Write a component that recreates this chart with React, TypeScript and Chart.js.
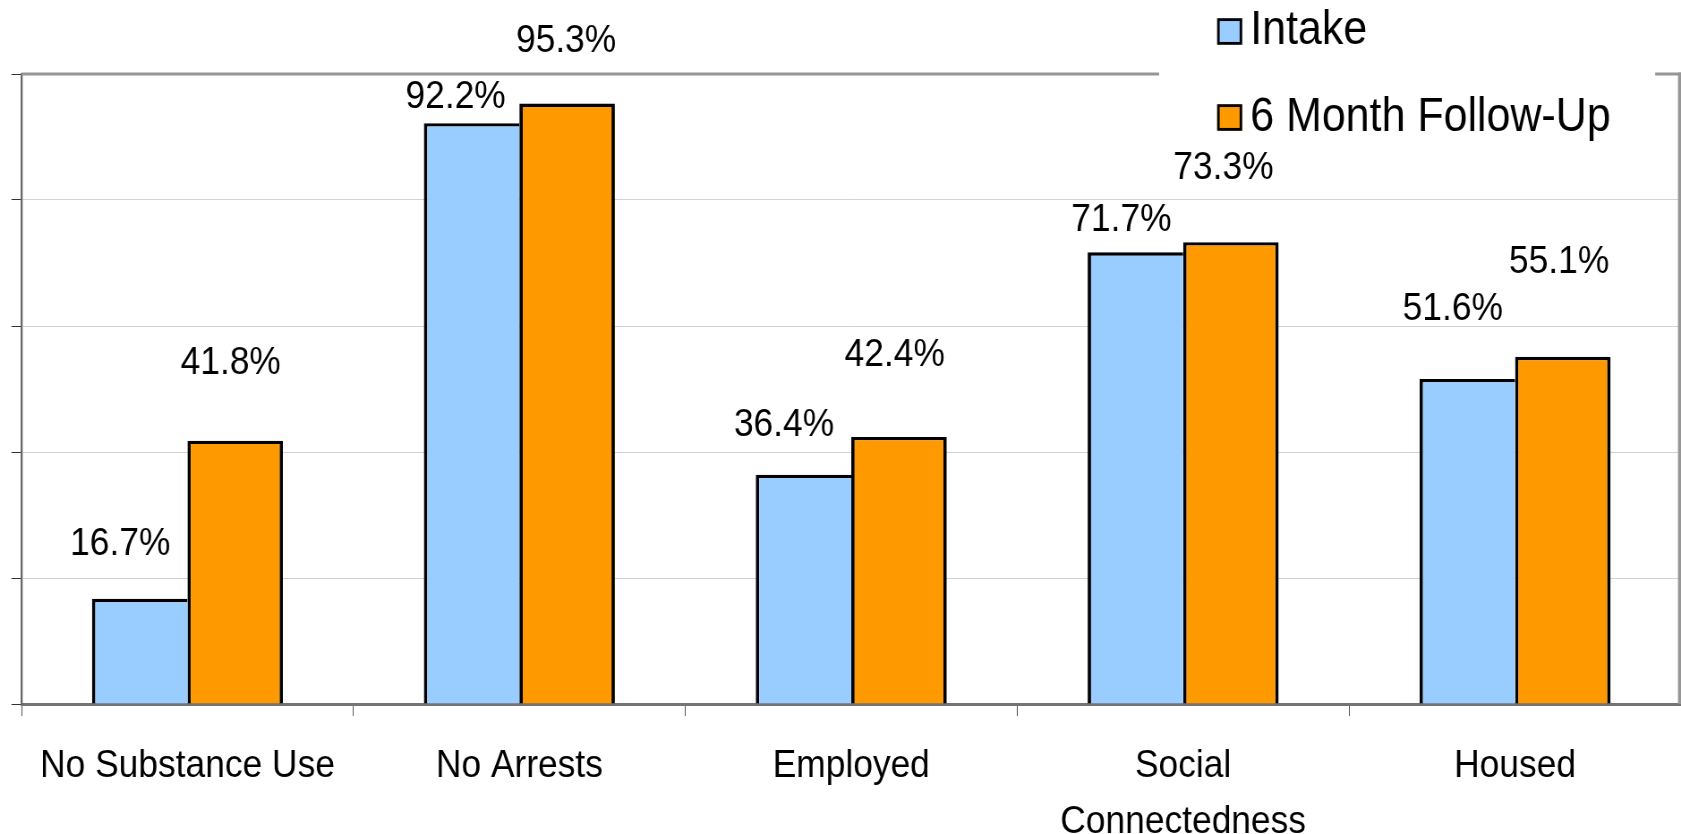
import React, { useEffect, useRef } from "react";
import { Chart, registerables } from "chart.js";

Chart.register(...registerables);

// ---- data ----
const categories: (string | string[])[] = [
  "No Substance Use",
  "No Arrests",
  "Employed",
  ["Social", "Connectedness"],
  "Housed",
];
const seriesNames = ["Intake", "6 Month Follow-Up"];
const intakeValues = [16.7, 92.2, 36.4, 71.7, 51.6];
const followUpValues = [41.8, 95.3, 42.4, 73.3, 55.1];
const yMin = 0;
const yMax = 100;
const yStep = 20;

// hand-placed value labels: [dx, dy] in page px from the top centre of each bar
const intakeLabelNudge = [
  [-19.5, -58],
  [-16, -29],
  [-19.5, -53],
  [-14, -35],
  [-14.5, -73],
];
const followUpLabelNudge = [
  [-4.5, -81],
  [-1, -66],
  [-4.3, -85],
  [-7.5, -77],
  [-3.7, -98],
];

// ---- look ----
const PAGE_W = 1681;
const PAGE_H = 834;
// the whole drawing is narrowed horizontally (text included)
const SQUEEZE = 0.895;
const CANVAS_W = Math.round(PAGE_W / SQUEEZE);
const sx = (x: number) => x / SQUEEZE;

const FONT = '"Liberation Sans", Arial, Helvetica, sans-serif';
const VALUE_SIZE = 39.5;
const LEGEND_SIZE = 48;
const CAP = 0.358; // cap-centre to baseline, in em

const PLOT_LEFT = 21.5;
const PLOT_TOP = 74;
const PLOT_BOTTOM = 704;

const INTAKE_FILL = "#99CCFF";
const FOLLOW_FILL = "#FF9900";
const EDGE = 3.4;

const framePlugin = {
  id: "frame",
  afterDatasetsDraw(chart: any) {
    const { ctx, chartArea: a } = chart;
    ctx.save();
    ctx.strokeStyle = "#969696";
    ctx.lineWidth = 3;
    ctx.beginPath();
    ctx.moveTo(a.left, a.top);
    ctx.lineTo(a.right, a.top);
    ctx.stroke();
    ctx.lineWidth = sx(3);
    ctx.beginPath();
    ctx.moveTo(a.right - sx(1.5), a.top - 1.5);
    ctx.lineTo(a.right - sx(1.5), a.bottom);
    ctx.stroke();

    // value labels
    ctx.fillStyle = "#000";
    ctx.font = `${VALUE_SIZE}px ${FONT}`;
    ctx.textAlign = "center";
    ctx.textBaseline = "alphabetic";
    const nudges = [intakeLabelNudge, followUpLabelNudge];
    chart.data.datasets.forEach((ds: any, di: number) => {
      const meta = chart.getDatasetMeta(di);
      meta.data.forEach((bar: any, i: number) => {
        const v = ds.data[i] as number;
        const [dx, dy] = nudges[di][i];
        ctx.fillText(
          `${v.toFixed(1)}%`,
          bar.x + sx(dx),
          bar.y + dy + CAP * VALUE_SIZE
        );
      });
    });
    ctx.restore();
  },
  afterDraw(chart: any) {
    const { ctx } = chart;
    ctx.save();
    // legend panel breaks the top frame line
    ctx.fillStyle = "#fff";
    ctx.fillRect(sx(1159), 60, sx(1655) - sx(1159), 28);

    const rows = [
      { cy: 31.5, baseline: 43.5 },
      { cy: 117.5, baseline: 130.5 },
    ];
    chart.data.datasets.forEach((ds: any, di: number) => {
      const r = rows[di];
      const x0 = sx(1217);
      const w = sx(25);
      const h = 26.5;
      const y0 = r.cy - h / 2;
      ctx.fillStyle = ds.backgroundColor;
      ctx.fillRect(x0, y0, w, h);
      ctx.strokeStyle = "#000";
      ctx.lineWidth = 2.8;
      ctx.strokeRect(x0 + 1.4, y0 + 1.4, w - 2.8, h - 2.8);
      ctx.fillStyle = "#000";
      ctx.font = `${LEGEND_SIZE}px ${FONT}`;
      ctx.textAlign = "left";
      ctx.textBaseline = "alphabetic";
      ctx.fillText(ds.label, sx(1250), r.baseline);
    });
    ctx.restore();
  },
};

export default function App() {
  const canvasRef = useRef<HTMLCanvasElement | null>(null);

  useEffect(() => {
    const canvas = canvasRef.current;
    if (!canvas) return;
    const chart = new Chart(canvas, {
      type: "bar",
      data: {
        labels: categories,
        datasets: [
          {
            label: seriesNames[0],
            data: intakeValues,
            backgroundColor: INTAKE_FILL,
            borderColor: "#000",
            borderWidth: { left: sx(EDGE), top: EDGE, right: 0, bottom: 0 },
            borderSkipped: false,
          },
          {
            label: seriesNames[1],
            data: followUpValues,
            backgroundColor: FOLLOW_FILL,
            borderColor: "#000",
            borderWidth: { left: sx(EDGE), top: EDGE, right: sx(EDGE), bottom: 0 },
            borderSkipped: false,
          },
        ],
      },
      options: {
        responsive: false,
        animation: false,
        devicePixelRatio: 1,
        events: [],
        datasets: {
          bar: {
            categoryPercentage: 0.5755,
            barPercentage: 1,
          },
        },
        layout: {
          autoPadding: false,
          padding: { left: 0, top: PLOT_TOP, right: 0, bottom: 0 },
        },
        plugins: {
          legend: { display: false },
          tooltip: { enabled: false },
          title: { display: false },
        },
        scales: {
          x: {
            grid: {
              offset: true,
              drawOnChartArea: false,
              drawTicks: true,
              tickLength: 12,
              color: "#555",
              lineWidth: 1,
            },
            border: { display: true, color: "#747474", width: 3 },
            ticks: {
              color: "#000",
              font: { family: FONT, size: VALUE_SIZE, lineHeight: 1.42 },
              padding: 22,
              maxRotation: 0,
              minRotation: 0,
              autoSkip: false,
            },
            afterFit: (s: any) => {
              s.height = PAGE_H - PLOT_BOTTOM;
            },
          },
          y: {
            min: yMin,
            max: yMax,
            ticks: { display: false, stepSize: yStep },
            grid: {
              color: (c: any) =>
                c.tick && (c.tick.value === yMin || c.tick.value === yMax)
                  ? "rgba(0,0,0,0)"
                  : "#d2d2d2",
              lineWidth: 1,
              drawTicks: true,
              tickLength: sx(10),
              tickColor: "#333",
            },
            border: { display: true, color: "#666", width: 2.3 },
            afterFit: (s: any) => {
              s.width = sx(PLOT_LEFT);
            },
          },
        },
      },
      plugins: [framePlugin],
    });
    return () => chart.destroy();
  }, []);

  return (
    <div style={{ position: "fixed", left: 0, top: 0, background: "#fff" }}>
      <canvas
        ref={canvasRef}
        width={CANVAS_W}
        height={PAGE_H}
        style={{ width: `${PAGE_W}px`, height: `${PAGE_H}px`, display: "block" }}
      />
    </div>
  );
}
